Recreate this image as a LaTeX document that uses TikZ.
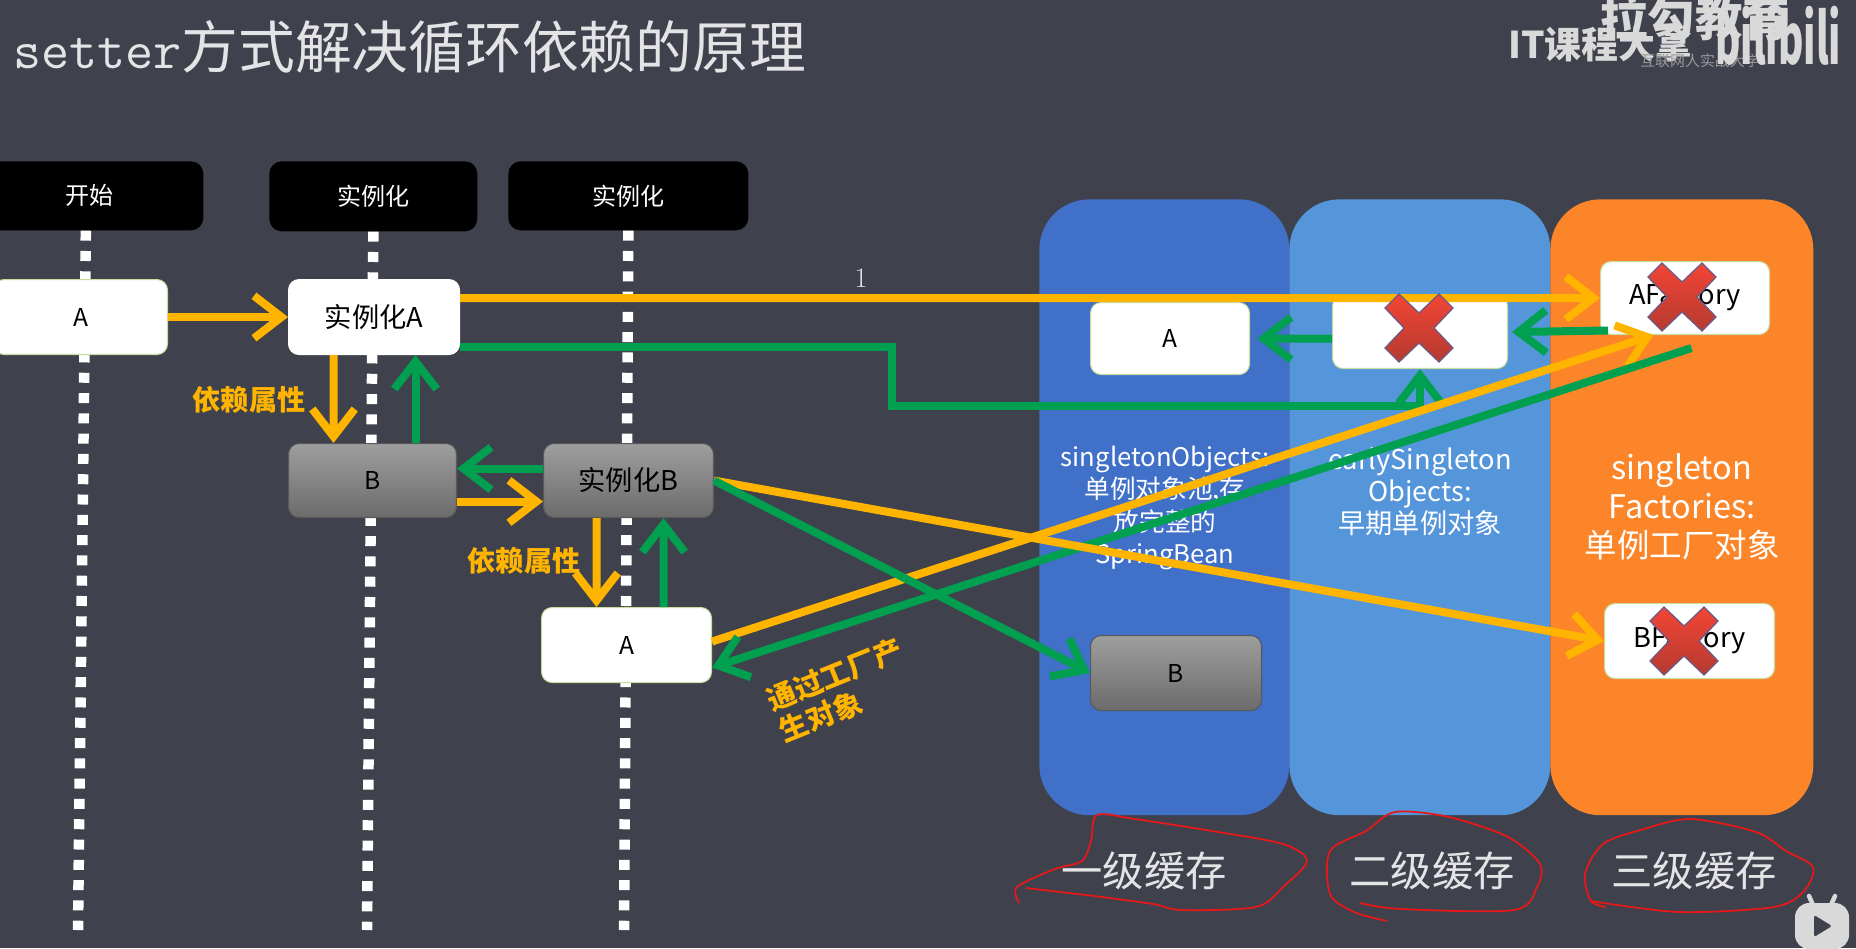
\documentclass[tikz,border=0pt]{standalone}
\usepackage{fontspec}
\setsansfont{Noto Sans CJK SC}
\usetikzlibrary{arrows.meta,positioning,calc}
\definecolor{slatebg}{HTML}{3F414D}
\definecolor{colone}{HTML}{4070C8}
\definecolor{coltwo}{HTML}{5596DA}
\definecolor{colthree}{HTML}{FB8528}
\definecolor{flowyellow}{HTML}{FFB400}
\definecolor{flowgreen}{HTML}{00A050}
\definecolor{cardbd}{HTML}{C8DCA0}
\definecolor{capttext}{HTML}{E4E4E6}
\definecolor{markbd}{HTML}{6A5A88}
\definecolor{marktop}{HTML}{F24535}
\definecolor{markbot}{HTML}{B53A30}
\definecolor{inkred}{HTML}{E81818}
\newcommand{\fnt}[2]{\sffamily\fontsize{#1}{#2}\selectfont}
\tikzset{
  headbox/.style={fill=black,rounded corners=7pt,text=white,inner sep=0,
                  font=\fnt{13.7}{16}},
  whitebox/.style={draw=cardbd,fill=white,rounded corners=6pt,line width=0.6pt,
                   text=black,inner sep=0,font=\fnt{14}{16}},
  graybox/.style={draw=black!65,top color=black!38,bottom color=black!58,
                  rounded corners=6pt,line width=0.6pt,text=black,inner sep=0,
                  font=\fnt{14}{16}},
  column/.style={rounded corners=1cm,inner sep=0,minimum width=5cm,
                 minimum height=12.32cm,anchor=north west},
  lifeline/.style={white,line width=0.21cm,dash pattern=on 0.2cm off 0.206cm},
  arrowyellow/.style={-{Straight Barb[length=0.55cm,width=0.85cm]},
                      line width=0.16cm,flowyellow},
  arrowgreen/.style={-{Straight Barb[length=0.55cm,width=0.85cm]},
                     line width=0.16cm,flowgreen},
  collabel/.style={text=white,align=center,inner sep=0},
  hintlabel/.style={flowyellow,inner sep=0,align=center,
                    font=\fnt{16}{20}\bfseries},
  cachelabel/.style={text=capttext,inner sep=0,font=\fnt{23.5}{26}},
  wmark/.style={text=black!15,inner sep=0},
  redcircle/.style={inkred,line width=0.035cm},
}
\begin{document}
\begin{tikzpicture}[x=0.02cm,y=-0.02cm]
  \useasboundingbox(0,0)rectangle(1856,948);
  \clip(0,0)rectangle(1856,948);
  \fill[slatebg](0,0)rectangle(1856,948);

  % title and watermark
  \node[anchor=west,inner sep=0,text=capttext](title)at(13,47)
    {{\ttfamily\fontsize{31}{34}\selectfont setter}{\fnt{32.3}{36}方式解决循环依赖的原理}};
  \node[wmark,font=\fnt{27}{30}\bfseries](wmlagou)at(1695,18){拉勾教育};
  \node[wmark,anchor=west,font=\fnt{21}{24}\bfseries](wmcourse)at(1508,44){IT课程大拿};
  \node[wmark,text=black!40,font=\fnt{8.5}{10}](wmslogan)at(1700,61){互联网人实战大学};
  \node[wmark,anchor=west,font=\fnt{40}{42}\bfseries,xscale=0.55](wmbili)at(1715,36){bilibili};

  % lifelines
  \node[headbox,minimum width=4.54cm,minimum height=1.38cm,anchor=north west]
    (hStart)at(-24,161){开始};
  \node[headbox,minimum width=4.16cm,minimum height=1.40cm,anchor=north west]
    (hInstA)at(269,161){实例化};
  \node[headbox,minimum width=4.80cm,minimum height=1.38cm,anchor=north west]
    (hInstB)at(508,161){实例化};
  \coordinate(endStart)at(78,930);
  \coordinate(endInstA)at(367,930);
  \coordinate(endInstB)at(624,930);
  \draw[lifeline]([xshift=-0.08cm]hStart.south)--(endStart);
  \draw[lifeline](hInstA.south)--(endInstA);
  \draw[lifeline](hInstB.south)--(endInstB);

  % cache columns
  \node[column,fill=colone](colOne)at(1039,199){};
  \node[column,fill=coltwo,minimum width=5.22cm](colTwo)at(1289,199){};
  \node[column,fill=colthree,minimum width=5.26cm](colThree)at(1550,199){};
  \node[collabel,font=\fnt{14.6}{18.3}](txtOne)at(1165,508)
    {singletonObjects:\\单例对象池,存\\放完整的\\SpringBean};
  \node[collabel,font=\fnt{15.5}{18.3}](txtTwo)at(1420,492)
    {earlySingleton\\Objects:\\早期单例对象};
  \node[collabel,font=\fnt{18.5}{22.2}](txtThree)at(1682,507)
    {singleton\\Factories:\\单例工厂对象};

  % flow boxes
  \node[whitebox,minimum width=3.48cm,minimum height=1.5cm,anchor=north west]
    (aStart)at(-7,279){A};
  \node[whitebox,draw=white,minimum width=3.42cm,minimum height=1.5cm,anchor=north west,
        font=\fnt{15.5}{18}](instA)at(288,279){实例化A};
  \node[graybox,minimum width=3.36cm,minimum height=1.48cm,anchor=north west]
    (bDep)at(288,443){B};
  \node[graybox,minimum width=3.4cm,minimum height=1.48cm,anchor=north west,
        font=\fnt{15.5}{18}](instB)at(543,443){实例化B};
  \node[whitebox,minimum width=3.4cm,minimum height=1.5cm,anchor=north west]
    (aDep)at(541,607){A};

  % cache boxes
  \node[whitebox,minimum width=3.18cm,minimum height=1.44cm,anchor=north west]
    (cacheA)at(1090,302){A};
  \node[graybox,minimum width=3.42cm,minimum height=1.5cm,anchor=north west]
    (cacheB)at(1090,635){B};
  \node[whitebox,minimum width=3.5cm,minimum height=1.46cm,anchor=north west]
    (early)at(1332,295){};
  \node[whitebox,minimum width=3.38cm,minimum height=1.46cm,anchor=north west,
        font=\fnt{15.5}{18}](facA)at(1600,261){AFactory};
  \node[whitebox,minimum width=3.4cm,minimum height=1.5cm,anchor=north west,
        font=\fnt{15.5}{18}](facB)at(1604,603){BFactory};

  % arrows
  \draw[arrowyellow](aStart.east)--(instA.west);
  \draw[arrowyellow]([yshift=0.38cm]instA.east)--(facA.west);
  \node[inner sep=0,text=capttext,font=\fontsize{16}{18}\selectfont](stepOne)at(861,278){1};
  \coordinate(bendGreen)at(892,406);
  \draw[arrowgreen]([yshift=-0.59cm]instA.east)-|(bendGreen)-|(early.south);
  \draw[arrowyellow]([xshift=-0.81cm]instA.south)--([xshift=-0.78cm]bDep.north);
  \draw[arrowgreen]([xshift=0.86cm]bDep.north)--([xshift=0.83cm]instA.south);
  \draw[arrowgreen]([yshift=0.24cm]instB.west)--([yshift=0.24cm]bDep.east);
  \draw[arrowyellow]([yshift=-0.42cm]bDep.east)--([yshift=-0.42cm]instB.west);
  \draw[arrowyellow]([xshift=-0.64cm]instB.south)--([xshift=-0.6cm]aDep.north);
  \draw[arrowgreen]([xshift=0.74cm]aDep.north)--([xshift=0.7cm]instB.south);
  \draw[arrowyellow]([yshift=0.07cm]aDep.east)--([xshift=-0.63cm]facA.south);
  \draw[arrowgreen]([xshift=0.13cm,yshift=-0.26cm]facA.south)--([yshift=-0.45cm]aDep.east);
  \draw[arrowgreen]([xshift=0.16cm,yshift=-0.65cm]facA.west)--([xshift=0.08cm]early.east);
  \draw[arrowgreen]([yshift=-0.13cm]early.west)--([xshift=0.14cm]cacheA.east);
  \draw[arrowyellow](instB.east)--(facB.west);
  \draw[arrowgreen](instB.east)--(cacheB.west);

  \node[hintlabel](depOne)at(249,400){依赖属性};
  \node[hintlabel](depTwo)at(524,561){依赖属性};
  \node[hintlabel,rotate=22,align=left,font=\fnt{16.3}{19}\bfseries](viaFactory)at(841,690)
    {通过工厂产\\生对象};

  % red crosses
  \foreach \cx/\cy in {1419/328,1682/297,1684/641}{
    \draw[markbd,line width=0.7pt,top color=marktop,bottom color=markbot]
      (\cx-34,\cy-20)--(\cx-20,\cy-34)--(\cx,\cy-15)--(\cx+20,\cy-34)--(\cx+34,\cy-20)
      --(\cx+15,\cy)--(\cx+34,\cy+20)--(\cx+20,\cy+34)--(\cx,\cy+15)--(\cx-20,\cy+34)
      --(\cx-34,\cy+20)--(\cx-15,\cy)--cycle;
  }

  % cache levels
  \node[cachelabel](levelOne)at(1144,871){一级缓存};
  \node[cachelabel](levelTwo)at(1432,871){二级缓存};
  \node[cachelabel](levelThree)at(1694,871){三级缓存};

  % hand drawn rings
  \draw[redcircle]plot[smooth]coordinates{(1019,903)(1017,887)(1055,869)(1082,861)
    (1091,841)(1097,815)(1135,819)(1212,831)(1283,844)(1307,861)(1283,887)(1256,907)
    (1182,910)(1153,904)(1094,896)(1026,888)};
  \draw[redcircle]plot[smooth]coordinates{(1387,921)(1354,912)(1330,894)(1330,851)
    (1366,831)(1395,812)(1449,817)(1508,837)(1540,864)(1537,887)(1514,910)(1401,909)
    (1360,903)};
  \draw[redcircle]plot[smooth]coordinates{(1606,907)(1591,901)(1585,874)(1603,844)
    (1644,829)(1691,819)(1756,832)(1786,851)(1813,867)(1804,891)(1774,907)(1679,912)
    (1591,901)};

  % player badge
  \draw[black!15,line width=0.09cm,line cap=round](1813,905)--(1809,896);
  \draw[black!15,line width=0.09cm,line cap=round](1831,905)--(1835,896);
  \fill[black!15,rounded corners=0.28cm](1795,903)rectangle(1849,949);
  \fill[slatebg,rounded corners=1pt](1814,915)--(1832,926)--(1814,937)--cycle;
\end{tikzpicture}
\end{document}
